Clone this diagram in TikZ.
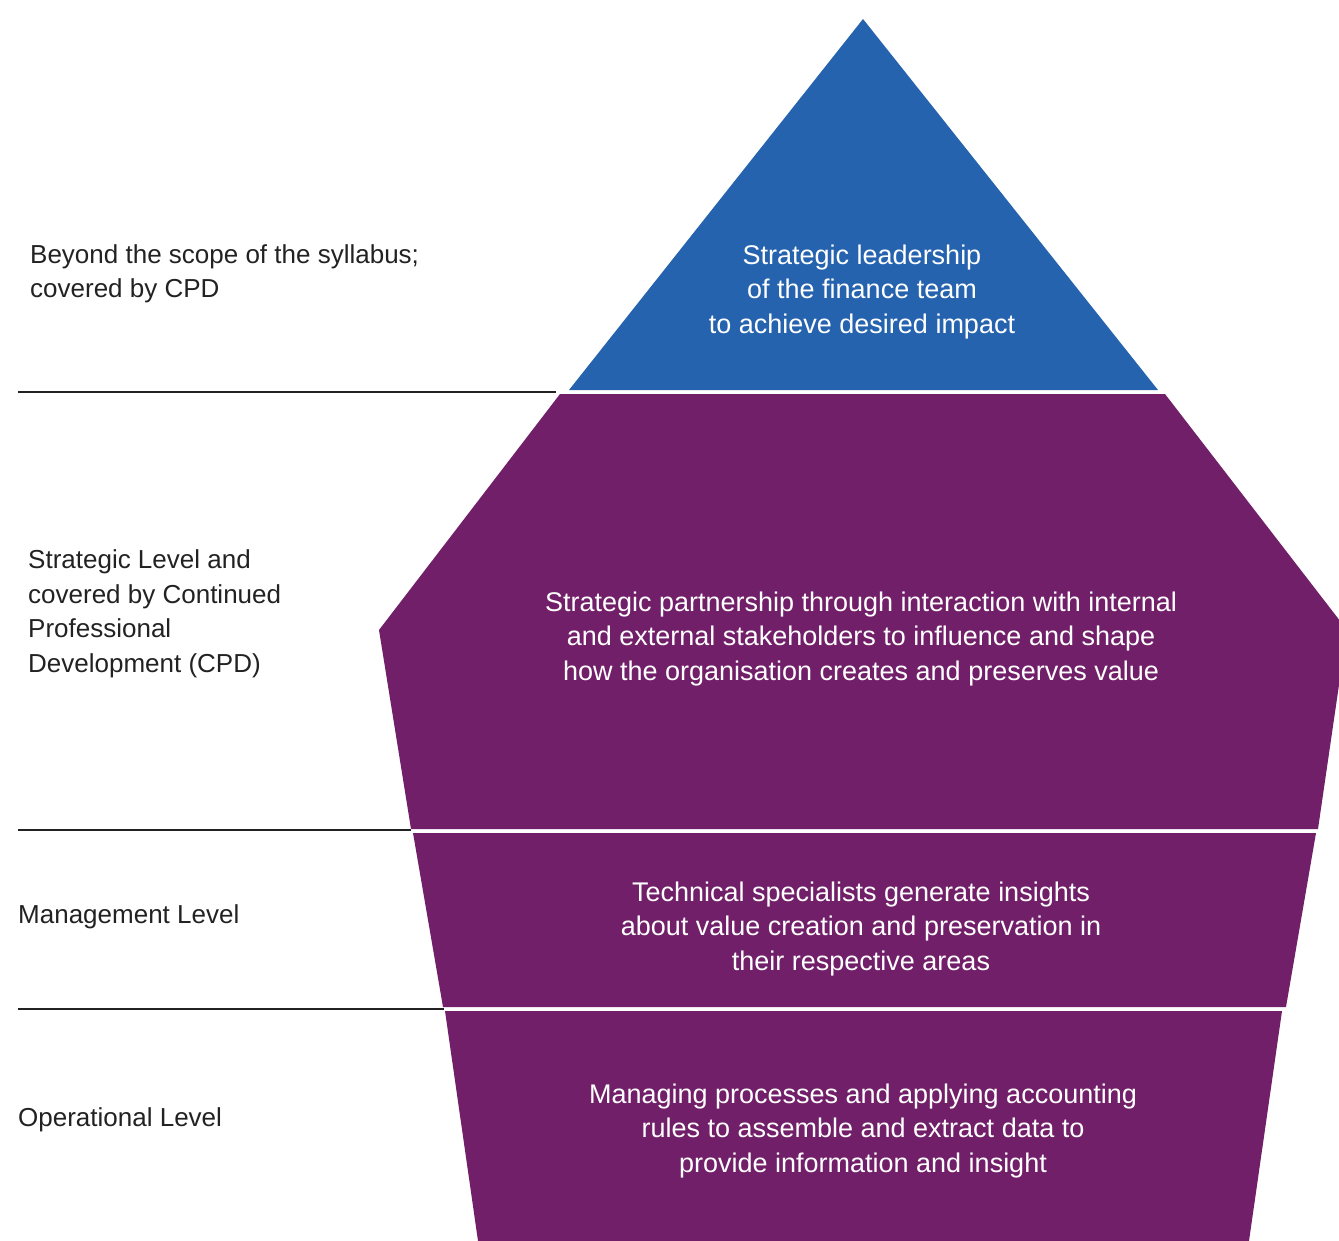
\documentclass[tikz,border=0pt]{standalone}
\usepackage{fontspec}
\setmainfont{Liberation Sans}
\definecolor{tierblue}{RGB}{37,99,175}
\definecolor{tierpurple}{RGB}{114,31,106}
\definecolor{labelgray}{RGB}{34,34,34}
\begin{document}
\begin{tikzpicture}[x=1pt,y=-1pt,
  intext/.style={text=white,align=center,font=\fontsize{27}{34.5}\selectfont,inner sep=0pt},
  lbl/.style={text=labelgray,align=left,anchor=west,font=\fontsize{26}{34.5}\selectfont,inner sep=0pt},
  sep/.style={draw=labelgray,line width=1.8pt}]
\useasboundingbox (0,0) rectangle (1339,1241);
% shapes
\fill[tierblue] (863,19) -- (1158,390) -- (569,390) -- cycle;
\fill[tierpurple] (560,394) -- (1165,394) -- (1347,630) -- (1318,829) -- (411,829) -- (379,630) -- cycle;
\fill[tierpurple] (413,833) -- (1316,833) -- (1286,1007) -- (443,1007) -- cycle;
\fill[tierpurple] (445,1011) -- (1282,1011) -- (1249,1241) -- (478,1241) -- cycle;
% separators
\coordinate (s1a) at (18,392); \coordinate (s1b) at (556,392);
\coordinate (s2a) at (18,830); \coordinate (s2b) at (411,830);
\coordinate (s3a) at (18,1009); \coordinate (s3b) at (444,1009);
\draw[sep] (s1a) -- (s1b);
\draw[sep] (s2a) -- (s2b);
\draw[sep] (s3a) -- (s3b);
% inner texts
\node[intext] (t1) at (862,292) {Strategic leadership\\of the finance team\\to achieve desired impact};
\node[intext] (t2) at (861,639) {Strategic partnership through interaction with internal\\and external stakeholders to influence and shape\\how the organisation creates and preserves value};
\node[intext] (t3) at (861,929) {Technical specialists generate insights\\about value creation and preservation in\\their respective areas};
\node[intext] (t4) at (863,1131) {Managing processes and applying accounting\\rules to assemble and extract data to\\provide information and insight};
% labels
\node[lbl] (l1) at (30,274) {Beyond the scope of the syllabus;\\covered by CPD};
\node[lbl] (l2) at (28,614) {Strategic Level and\\covered by Continued\\Professional\\Development (CPD)};
\node[lbl] (l3) at (18,917) {Management Level};
\node[lbl] (l4) at (18,1120) {Operational Level};
\end{tikzpicture}
\end{document}
